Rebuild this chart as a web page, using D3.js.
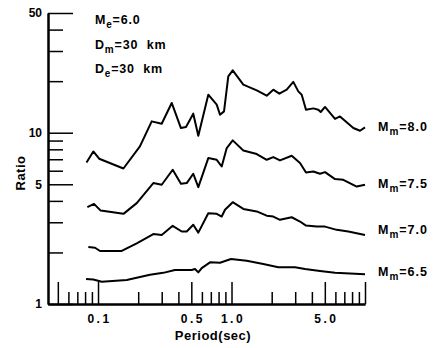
<!DOCTYPE html>
<html>
<head>
<meta charset="utf-8">
<script src="https://cdn.jsdelivr.net/npm/d3@7"></script>
<style>
  body { margin: 0; background: #fff; }
  svg { display: block; font-family: "Liberation Sans", Arial, sans-serif; font-weight: bold; }
</style>
</head>
<body>
<svg width="444" height="348"></svg>
<script>
// ratio curves, [period (sec), ratio]
const m80 = [[0.082,6.70],[0.0922,7.77],[0.102,7.05],[0.155,6.18],[0.206,8.32],[0.2525,11.65],[0.300,11.29],
  [0.3565,14.92],[0.418,10.65],[0.456,10.80],[0.517,12.92],[0.564,9.60],[0.670,16.68],[0.775,14.58],[0.820,12.74],
  [0.879,13.32],[0.946,21.34],[1.021,23.14],[1.226,19.09],[1.545,17.68],[1.835,16.46],[2.056,17.84],[2.281,16.90],
  [2.591,17.84],[2.904,19.80],[3.165,17.44],[3.356,16.68],[3.614,13.63],[4.100,13.87],[4.469,13.63],[4.658,13.21],
  [5.017,14.14],[5.962,12.03],[6.496,12.45],[8.175,10.65],[9.175,10.27],[10.0,10.74]];
const m75 = [[0.0832,3.68],[0.0933,3.84],[0.1047,3.51],[0.155,3.36],[0.195,3.88],[0.2596,5.08],[0.300,4.97],
  [0.3627,6.08],[0.418,5.03],[0.462,5.08],[0.517,5.76],[0.564,4.81],[0.670,7.11],[0.775,6.95],[0.8445,6.35],
  [0.921,8.14],[1.021,9.02],[1.226,7.88],[1.545,7.51],[1.835,6.95],[2.056,7.21],[2.308,6.89],[2.824,7.34],
  [3.260,6.65],[3.614,5.86],[4.100,5.94],[4.602,5.76],[5.017,5.89],[5.962,5.36],[6.878,5.31],[8.666,4.85],[10.0,4.97]];
const m70 = [[0.0846,2.15],[0.095,2.13],[0.1035,2.04],[0.1505,2.04],[0.195,2.26],[0.2596,2.56],[0.300,2.53],
  [0.3627,2.86],[0.4236,2.65],[0.462,2.65],[0.517,2.90],[0.564,2.61],[0.670,3.39],[0.775,3.36],[0.8445,3.24],
  [0.894,3.55],[1.021,3.93],[1.226,3.59],[1.545,3.47],[1.835,3.28],[2.056,3.24],[2.308,3.10],[2.824,3.21],
  [3.260,3.03],[3.614,2.87],[4.346,2.83],[5.017,2.83],[6.138,2.71],[7.497,2.65],[10.0,2.53]];
const m65 = [[0.0813,1.40],[0.0922,1.39],[0.1066,1.35],[0.164,1.38],[0.245,1.48],[0.308,1.52],[0.377,1.58],
  [0.503,1.58],[0.533,1.60],[0.564,1.53],[0.598,1.62],[0.690,1.75],[0.820,1.74],[0.991,1.83],[1.300,1.79],
  [1.730,1.71],[2.242,1.64],[2.990,1.64],[3.553,1.60],[4.602,1.56],[5.962,1.52],[10.0,1.49]];

const series = [m80, m75, m70, m65];
const seriesNames = ["8.0", "7.5", "7.0", "6.5"];

const yMajor = [50, 10, 5, 1];
const yMinor = [40, 30, 20, 9, 8, 7, 6, 4, 3, 2];
const xTall = [0.05, 0.1, 0.5, 1, 5, 10];
const xShort = [0.06, 0.07, 0.08, 0.09, 0.2, 0.3, 0.4, 0.6, 0.7, 0.8, 0.9, 2, 3, 4, 6, 7, 8, 9];
const xLabels = {0.1: "0.1", 0.5: "0.5", 1: "1.0", 5: "5.0"};

const params = [["M", "e", "=6.0"], ["D", "m", "=30\u00a0\u00a0km"], ["D", "e", "=30\u00a0\u00a0km"]];

const svg = d3.select("svg");
const x = d3.scaleLog().domain([0.0422, 10]).range([48, 365]);
const y = d3.scaleLog().domain([1, 50]).range([304, 13]);
const labelBase = [131, 188, 234, 276];

function styleAxis(g) {
  g.select(".domain").attr("stroke-width", 2);
  g.selectAll(".tick line").attr("stroke-width", 1.5);
  g.selectAll("text").attr("fill", "#000").attr("font-family", null);
}

svg.append("g")
  .attr("transform", "translate(0,304)")
  .call(d3.axisBottom(x).tickValues(xShort).tickSize(-12).tickSizeOuter(0).tickFormat(""))
  .call(styleAxis);

svg.append("g")
  .attr("transform", "translate(0,304)")
  .call(d3.axisBottom(x).tickValues(xTall).tickSize(-22).tickSizeOuter(0).tickPadding(10)
    .tickFormat(d => xLabels[d] || ""))
  .call(styleAxis)
  .selectAll("text").attr("font-size", 12).attr("letter-spacing", 2.5).attr("font-weight", "bold")
  .attr("dx", 1);

svg.append("g")
  .attr("transform", "translate(48,0)")
  .call(d3.axisLeft(y).tickValues(yMinor).tickSize(-15).tickSizeOuter(0).tickFormat(""))
  .call(styleAxis);

svg.append("g")
  .attr("transform", "translate(48,0)")
  .call(d3.axisLeft(y).tickValues(yMajor).tickSize(-25).tickSizeOuter(0).tickPadding(6)
    .tickFormat(d3.format("d")))
  .call(styleAxis)
  .selectAll("text").attr("font-size", 12).attr("font-weight", "bold");

// axis titles
svg.append("text")
  .attr("x", 213).attr("y", 340)
  .attr("text-anchor", "middle")
  .attr("font-size", 13).attr("letter-spacing", 0.5)
  .text("Period(sec)");

svg.append("text")
  .attr("transform", "translate(25,173) rotate(-90)")
  .attr("text-anchor", "middle")
  .attr("font-size", 13).attr("letter-spacing", 0.5)
  .text("Ratio");

// curves
const line = d3.line().x(d => x(d[0])).y(d => y(d[1]));
svg.selectAll(".curve")
  .data(series)
  .join("path")
  .attr("class", "curve")
  .attr("d", line)
  .attr("fill", "none")
  .attr("stroke", "#000")
  .attr("stroke-width", 2)
  .attr("stroke-linejoin", "round");

function subText(sel, main, sub, rest) {
  sel.append("tspan").text(main);
  sel.append("tspan").attr("font-size", 10).attr("dy", 4).text(sub);
  sel.append("tspan").attr("dy", -4).text(rest);
}

seriesNames.forEach((name, i) => {
  const t = svg.append("text")
    .attr("x", 428).attr("y", labelBase[i])
    .attr("text-anchor", "end")
    .attr("font-size", 12.5).attr("letter-spacing", 1);
  subText(t, "M", "m", "=" + name);
});

params.forEach((p, i) => {
  const t = svg.append("text")
    .attr("x", 95).attr("y", 24 + i * 24.5)
    .attr("font-size", 12.5).attr("letter-spacing", 0.8);
  subText(t, p[0], p[1], p[2]);
});
</script>
</body>
</html>
